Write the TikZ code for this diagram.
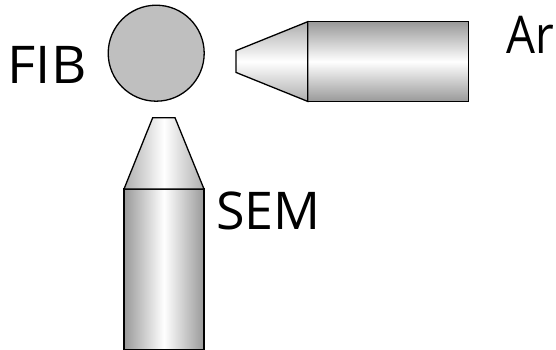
\documentclass[tikz,border=0pt]{standalone}
\usepackage{fontspec}
\setmainfont{Open Sans}
\begin{document}
\begin{tikzpicture}[x=1pt,y=-1pt,
  edge/.style={draw=black,line width=1.3pt,line join=miter},
  lab/.style={font=\fontsize{52}{56}\selectfont,inner sep=0pt,text=black}]
\useasboundingbox (0,0) rectangle (556,350);
\definecolor{gbody}{gray}{0.6}
\definecolor{gcone}{gray}{0.68}
% SEM gun
\path[edge,left color=gbody,right color=gbody,middle color=white] (124,189) rectangle (204,350);
\path[edge,left color=gcone,right color=gcone,middle color=white] (124,189) -- (152.7,117.7) -- (175,117.7) -- (204,189) -- cycle;
% Ar gun
\path[edge,top color=gbody,bottom color=gbody,middle color=white] (307.7,21.7) rectangle (468.3,101.4);
\path[edge,top color=gcone,bottom color=gcone,middle color=white] (307.7,21.7) -- (235.9,50.7) -- (235.9,72.4) -- (307.7,101.4) -- cycle;
\node[draw=black,line width=1.3pt,fill=black!25,circle,minimum size=96pt,inner sep=0pt] (s) at (156.2,53.2) {};
\node[lab] (f) at (47,64.5) {\scalebox{1.05}[1]{FIB}};
\node[lab,anchor=west] (a) at (506,34.5) {\scalebox{0.88}[1]{Ar}};
\node[lab] (e) at (268.5,211) {SEM};
\end{tikzpicture}
\end{document}
